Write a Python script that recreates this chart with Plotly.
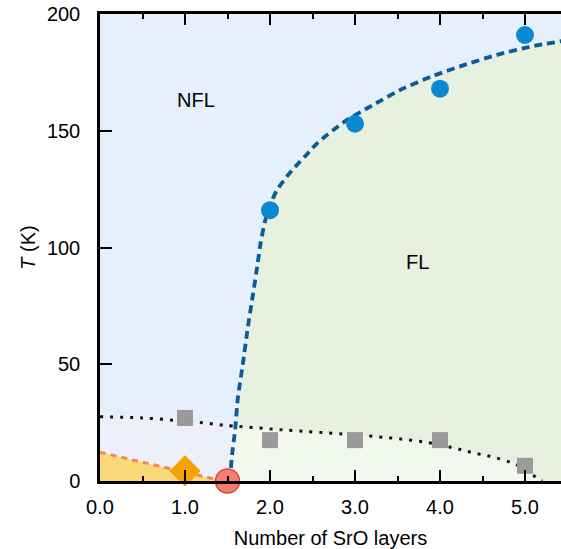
import plotly.graph_objects as go

# ---- data ----
tc_layers = [2, 3, 4, 5]
tc_values = [116, 153, 168, 191]

tfl_layers = [1, 2, 3, 4, 5]
tfl_values = [27, 17.5, 17.5, 17.5, 6.5]

diamond_layers = [1.0]
diamond_values = [4.3]

qcp_layers = [1.5]
qcp_values = [0]

# boundary (blue dashed) between NFL and FL
bound_x = [1.53, 1.55, 1.59, 1.62, 1.68, 1.74, 1.80, 1.85, 1.89, 1.94, 2.0, 2.08, 2.2,
           2.32, 2.45, 2.55, 2.88, 3.21, 3.56, 3.92, 4.27, 4.67, 5.06, 5.45]
bound_y = [0, 10, 22, 35, 50, 66, 80, 92, 102, 111, 118, 124.5, 130.5,
           135.5, 140.5, 144.5, 154, 161, 168, 173.5, 178, 182.5, 186, 188.5]

# dotted crossover line (split at the boundary)
dot_left_x = [0.0, 0.5, 1.0, 1.24, 1.43, 1.56]
dot_left_y = [27.5, 27.0, 25.6, 24.8, 24.0, 23.6]
dot_right_x = [1.56, 2.0, 2.35, 2.82, 3.4, 3.85, 4.18, 4.4, 4.62, 4.85, 5.0, 5.14, 5.2]
dot_right_y = [23.6, 22.3, 21.4, 20.2, 18.5, 16.5, 14.0, 12.0, 10.3, 7.7, 5.0, 1.3, 0]

# orange dashed line (yellow region)
orange_x = [0.0, 1.45]
orange_y = [12.3, 0]

x_ticks = [0, 1, 2, 3, 4, 5]
y_ticks = [0, 50, 100, 150, 200]

FONT = "Liberation Sans, Arial, Helvetica, sans-serif"

fig = go.Figure()

# FL region (under the boundary)
fig.add_trace(go.Scatter(x=bound_x, y=bound_y, mode="none", fill="tozeroy",
                         fillcolor="#E8F0DF", line_shape="spline",
                         hoverinfo="skip", showlegend=False))
# lower band under the dotted line
fig.add_trace(go.Scatter(x=dot_left_x, y=dot_left_y, mode="none", fill="tozeroy",
                         fillcolor="#EDEFFB", hoverinfo="skip", showlegend=False))
fig.add_trace(go.Scatter(x=dot_right_x, y=dot_right_y, mode="none", fill="tozeroy",
                         fillcolor="#F3F8EE", hoverinfo="skip", showlegend=False))
# yellow region
fig.add_trace(go.Scatter(x=orange_x, y=orange_y, mode="lines", fill="tozeroy",
                         fillcolor="#F8D879",
                         line=dict(color="#F0875A", width=3, dash="6px,5px"),
                         hoverinfo="skip", showlegend=False))
# dotted line
fig.add_trace(go.Scatter(x=dot_left_x + dot_right_x[1:], y=dot_left_y + dot_right_y[1:],
                         mode="lines", line=dict(color="#111111", width=3, dash="3px,7px"),
                         line_shape="spline", hoverinfo="skip", showlegend=False))
# blue dashed boundary
fig.add_trace(go.Scatter(x=bound_x, y=bound_y, mode="lines",
                         line=dict(color="#0B5B98", width=3.8, dash="8px,5px", shape="spline",
                                   smoothing=0.6),
                         hoverinfo="skip", showlegend=False))

# markers
fig.add_trace(go.Scatter(x=tfl_layers, y=tfl_values, mode="markers",
                         marker=dict(symbol="square", size=16, color="#9A9A9A"),
                         cliponaxis=False, showlegend=False))
fig.add_trace(go.Scatter(x=tc_layers, y=tc_values, mode="markers",
                         marker=dict(symbol="circle", size=18, color="#0A88D0"),
                         cliponaxis=False, showlegend=False))
fig.add_trace(go.Scatter(x=diamond_layers, y=diamond_values, mode="markers",
                         marker=dict(symbol="diamond", size=24, color="#F5A300"),
                         cliponaxis=False, showlegend=False))
fig.add_trace(go.Scatter(x=qcp_layers, y=qcp_values, mode="markers",
                         marker=dict(symbol="circle", size=24, color="#F57F6E",
                                     line=dict(color="#D9453A", width=1.5)),
                         cliponaxis=False, showlegend=False))

fig.add_annotation(x=1.13, y=163, xref="x", yref="y", text="NFL", showarrow=False,
                   font=dict(family=FONT, size=20, color="#000"))
fig.add_annotation(x=3.73, y=94, xref="x", yref="y", text="FL", showarrow=False,
                   font=dict(family=FONT, size=20, color="#000"))

fig.update_layout(
    width=561, height=549,
    margin=dict(l=100, r=0, t=14, b=68),
    paper_bgcolor="white", plot_bgcolor="#E6F0FC",
    font=dict(family=FONT, size=20, color="#000"),
    xaxis=dict(range=[0, 5.4235], tickvals=x_ticks, tickformat=".1f",
               ticks="inside", ticklen=11, tickwidth=2, tickcolor="#000",
               minor=dict(dtick=0.5, tick0=0, ticks="inside", ticklen=5, tickwidth=2,
                          tickcolor="#000", showgrid=False),
               showline=True, linewidth=2.5, linecolor="#000", mirror="ticks",
               showgrid=False, zeroline=False, automargin=False,
               ticklabelstandoff=6, ticklabeloverflow="allow",
               title=dict(text="Number of SrO layers", standoff=20,
                          font=dict(family=FONT, size=20))),
    yaxis=dict(range=[0, 200], tickvals=y_ticks,
               ticks="inside", ticklen=12, tickwidth=2, tickcolor="#000",
               showline=True, linewidth=2.5, linecolor="#000",
               showgrid=False, zeroline=False, automargin=False,
               ticklabelstandoff=13, ticklabeloverflow="allow",
               title=dict(text="<i>T</i> (K)", standoff=6,
                          font=dict(family=FONT, size=20))),
    yaxis2=dict(range=[0, 200], tickvals=y_ticks, overlaying="y", side="right",
                ticks="inside", ticklen=5, tickwidth=2, tickcolor="#000",
                showticklabels=False, showline=False, showgrid=False, zeroline=False),
)

fig.write_html("out.html", config={"displayModeBar": False},
               post_script="document.body.style.margin='0';document.body.style.overflow='hidden';")
